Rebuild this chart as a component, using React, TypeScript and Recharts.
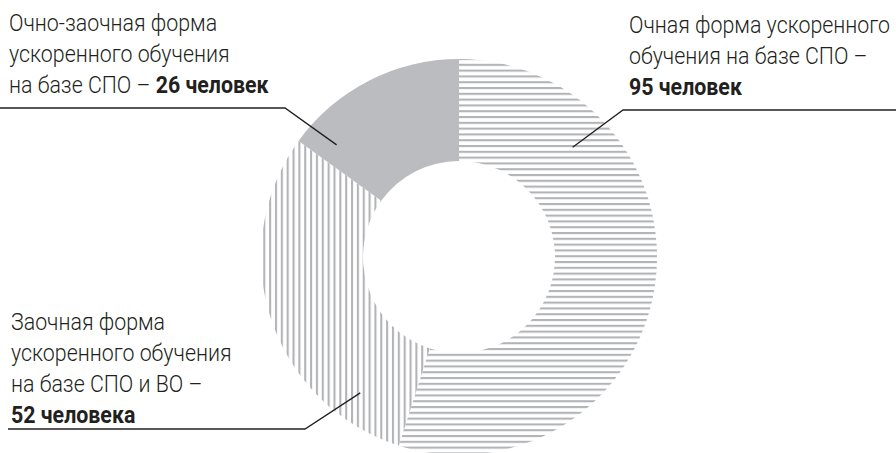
import { Pie, PieChart, Cell } from 'recharts'

const categories = [
  'Очная форма ускоренного обучения на базе СПО',
  'Заочная форма ускоренного обучения на базе СПО и ВО',
  'Очно-заочная форма ускоренного обучения на базе СПО',
]
const values = [95, 52, 26]
const fills = ['url(#stripesH)', 'url(#stripesV)', '#bbbcbf']

// label text lines: [normal part, bold part] per line
const labelLines: [string, string][][] = [
  [['Очная форма ускоренного', ''], ['обучения на базе СПО –', ''], ['', '95 человек']],
  [['Заочная форма', ''], ['ускоренного обучения', ''], ['на базе СПО и ВО –', ''], ['', '52 человека']],
  [['Очно-заочная форма', ''], ['ускоренного обучения', ''], ['на базе СПО – ', '26 человек']],
]

const data = categories.map((name, i) => ({ name, value: values[i] }))

// layout for each callout: text origin, underline, anchor inside ring (polar)
const callouts = [
  { x: 629, y: 33, lineY: 110, x1: 623, x2: 896, r: 158, angle: 44 },
  { x: 11, y: 330, lineY: 429, x1: 8, x2: 305, r: 168, angle: 234 },
  { x: 9, y: 31, lineY: 108, x1: 0, x2: 285, r: 166, angle: 137.5 },
]

const RAD = Math.PI / 180
const ink = '#231f20'
const squeeze = 0.89

function renderLabel(props: any) {
  const { cx, cy, index } = props
  const c = callouts[index]
  const ax = cx + c.r * Math.cos(c.angle * RAD)
  const ay = cy - c.r * Math.sin(c.angle * RAD)
  const elbowX = index === 0 ? c.x1 : c.x2
  const lineStart = index === 0 ? c.x2 : c.x1
  return (
    <g key={`lbl-${index}`}>
      <polyline
        points={`${lineStart},${c.lineY} ${elbowX},${c.lineY} ${ax},${ay}`}
        fill="none"
        stroke={ink}
        strokeWidth={1.3}
      />
      <g transform={`translate(${c.x},${c.y}) scale(${squeeze},1)`}>
        <text x={0} y={0} fill={ink} fontFamily="Roboto, sans-serif" fontSize={24} fontWeight={300}>
          {labelLines[index].map(([normal, bold], j) => (
            <tspan key={j} x={0} y={j * 31}>
              {normal}
              {bold && <tspan fontWeight={700}>{bold}</tspan>}
            </tspan>
          ))}
        </text>
      </g>
    </g>
  )
}

export default function App() {
  return (
    <div style={{ position: 'absolute', left: 0, top: 0, background: '#fff' }}>
      <PieChart width={896} height={453} margin={{ top: 0, right: 0, bottom: 0, left: 0 }}>
        <defs>
          <pattern id="stripesH" patternUnits="userSpaceOnUse" width={8} height={5.8}>
            <rect x={0} y={0} width={8} height={2.1} fill="#b3b4b7" />
          </pattern>
          <pattern id="stripesV" patternUnits="userSpaceOnUse" width={5.85} height={8}>
            <rect x={0} y={0} width={2.1} height={8} fill="#b3b4b7" />
          </pattern>
        </defs>
        <Pie
          data={data}
          dataKey="value"
          nameKey="name"
          cx={459}
          cy={257}
          innerRadius={96}
          outerRadius={198}
          startAngle={90}
          endAngle={-270}
          stroke="none"
          label={renderLabel}
          labelLine={false}
          isAnimationActive={false}
        >
          {data.map((d, i) => (
            <Cell key={d.name} fill={fills[i]} />
          ))}
        </Pie>
      </PieChart>
    </div>
  )
}
